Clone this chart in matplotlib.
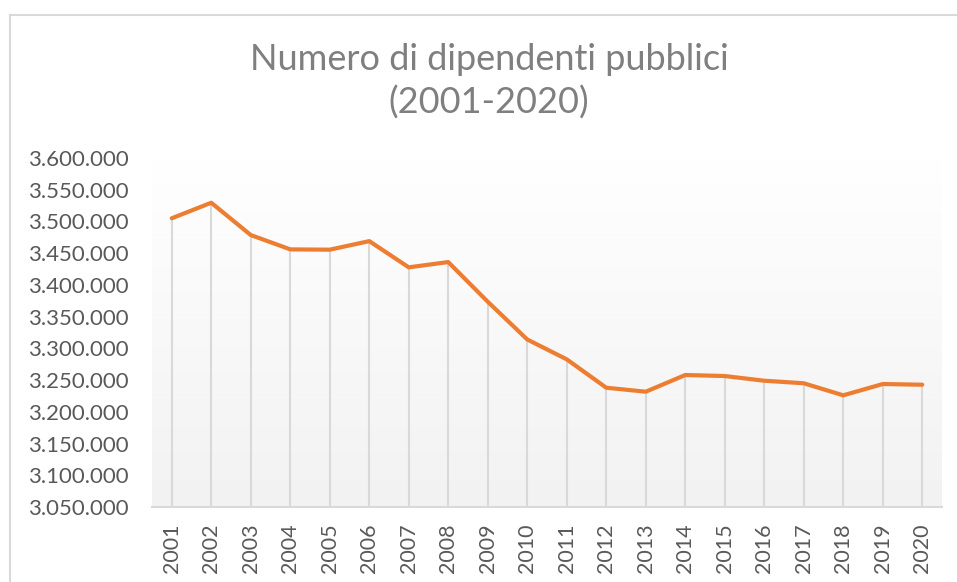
import numpy as np
import matplotlib.pyplot as plt
from matplotlib.ticker import FuncFormatter
from matplotlib.lines import Line2D

years = [str(y) for y in range(2001, 2021)]
dipendenti = [3505000, 3529500, 3478600, 3456000, 3455500, 3469000, 3427700, 3436000,
              3373500, 3314000, 3282700, 3238000, 3231700, 3258000, 3256400, 3249000,
              3245000, 3226000, 3243800, 3242700]

plt.rcParams['font.family'] = ['Lato', 'DejaVu Sans']

fig = plt.figure(figsize=(9.57, 5.82), dpi=100)
ax = fig.add_axes([152 / 957, 1 - 507 / 582, 790 / 957, 349 / 582])

x = np.arange(len(years))
ymin, ymax = 3050000, 3600000

# gradient background like excel
grad = np.linspace(0, 1, 256).reshape(-1, 1)
cmap = plt.matplotlib.colors.LinearSegmentedColormap.from_list('g', ['#f2f2f2', '#ffffff'])
ax.imshow(grad, extent=[-0.5, len(years) - 0.5, ymin, ymax], origin='lower',
          aspect='auto', cmap=cmap, zorder=0)

ax.vlines(x, ymin, dipendenti, color='#d9d9d9', lw=1.5, zorder=1)
ax.plot(x, dipendenti, color='#ED7D31', lw=3, solid_capstyle='round',
        solid_joinstyle='round', zorder=3)

ax.set_xlim(-0.5, len(years) - 0.5)
ax.set_ylim(ymin, ymax)
ax.set_yticks(np.arange(ymin, ymax + 1, 50000))
ax.yaxis.set_major_formatter(FuncFormatter(lambda v, p: f'{int(v):,}'.replace(',', '.')))
ax.set_xticks(x)
ax.set_xticklabels(years, rotation=90)
ax.tick_params(axis='y', length=0, pad=17, labelsize=16, labelcolor='#595959')
ax.tick_params(axis='x', length=0, pad=12, labelsize=15.5, labelcolor='#595959')

for s in ['top', 'right', 'left']:
    ax.spines[s].set_visible(False)
ax.spines['bottom'].set_color('#d9d9d9')
ax.spines['bottom'].set_linewidth(1.5)
ax.spines['bottom'].set_zorder(2)

fig.text(489 / 957, 1 - 60 / 582, 'Numero di dipendenti pubblici', ha='center', va='center',
         fontsize=26, color='#7f7f7f')
fig.text(489 / 957, 1 - 103 / 582, '(2001-2020)', ha='center', va='center',
         fontsize=26, color='#7f7f7f')

# chart border (cropped)
fig.add_artist(Line2D([10 / 957, 1], [1 - 14.5 / 582] * 2, color='#d9d9d9', lw=1.5,
                      transform=fig.transFigure))
fig.add_artist(Line2D([10 / 957] * 2, [0, 1 - 14.5 / 582], color='#d9d9d9', lw=1.5,
                      transform=fig.transFigure))

fig.savefig('out.png', dpi=100, facecolor='white')
